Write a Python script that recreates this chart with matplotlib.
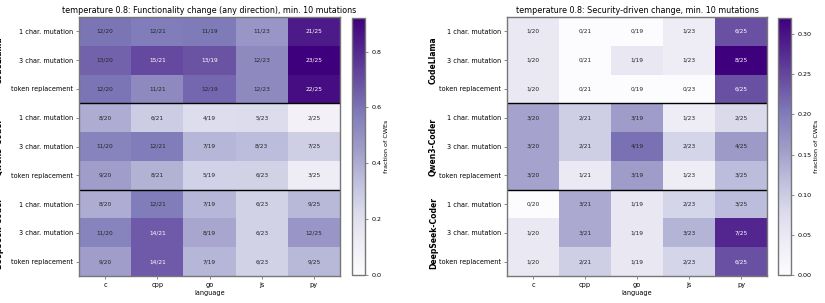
import numpy as np
import matplotlib
matplotlib.use("Agg")
import matplotlib.pyplot as plt
from matplotlib.colors import Normalize

languages = ["c", "cpp", "go", "js", "py"]
totals = [20, 21, 19, 23, 25]
models = ["CodeLlama", "Qwen3-Coder", "DeepSeek-Coder"]
mutations = ["1 char. mutation", "3 char. mutation", "token replacement"]

# functionality change counts (rows: model x mutation)
func_codellama = [[12, 12, 11, 11, 21], [13, 15, 13, 12, 23], [12, 11, 12, 12, 22]]
func_qwen = [[8, 6, 4, 5, 2], [11, 12, 7, 8, 7], [9, 8, 5, 6, 3]]
func_deepseek = [[8, 12, 7, 6, 9], [11, 14, 8, 6, 12], [9, 14, 7, 6, 9]]

# security-driven change counts
sec_codellama = [[1, 0, 0, 1, 6], [1, 0, 1, 1, 8], [1, 0, 0, 0, 6]]
sec_qwen = [[3, 2, 3, 1, 2], [3, 2, 4, 2, 4], [3, 1, 3, 1, 3]]
sec_deepseek = [[0, 3, 1, 2, 3], [1, 3, 1, 3, 7], [1, 2, 1, 2, 6]]

titles = ["temperature 0.8: Functionality change (any direction), min. 10 mutations",
          "temperature 0.8: Security-driven change, min. 10 mutations"]

W, H = 825, 303
fig = plt.figure(figsize=(W / 100, H / 100), dpi=100)

def fx(px):
    return px / W

def fy(py):
    return 1 - py / H

panels = [
    (np.array(func_codellama + func_qwen + func_deepseek), (79, 340), (352, 365), 80,
     [0.0, 0.2, 0.4, 0.6, 0.8], "{:.1f}"),
    (np.array(sec_codellama + sec_qwen + sec_deepseek), (507, 767), (778, 791), 73.5,
     [0.0, 0.05, 0.10, 0.15, 0.20, 0.25, 0.30], "{:.2f}"),
]
top, bot = 17, 276
spine_col = "#777777"
cmap = plt.get_cmap("Purples")

for (counts, (x0, x1), (c0, c1), goff, cticks, cfmt), title in zip(panels, titles):
    frac = counts / np.array(totals)[None, :]
    ax = fig.add_axes([fx(x0), fy(bot), fx(x1 - x0), (bot - top) / H])
    norm = Normalize(vmin=0, vmax=frac.max())
    mesh = ax.pcolormesh(np.arange(len(languages) + 1), np.arange(frac.shape[0] + 1),
                         frac, cmap=cmap, norm=norm)
    ax.set_xlim(0, len(languages))
    ax.set_ylim(frac.shape[0], 0)
    for i in range(frac.shape[0]):
        for j in range(frac.shape[1]):
            r, g, b, _ = cmap(norm(frac[i, j]))
            lum = 0.2126 * r + 0.7152 * g + 0.0722 * b
            col = "#262626" if lum > 0.408 else "white"
            ax.text(j + 0.5, i + 0.5, f"{counts[i, j]}/{totals[j]}", ha="center",
                    va="center", fontsize=4.2, color=col)
    for yy in [3, 6]:
        ax.axhline(yy, color="black", lw=1.0)
    ax.set_xticks(np.arange(len(languages)) + 0.5)
    ax.set_xticklabels(languages, fontsize=4.7)
    ax.set_yticks(np.arange(frac.shape[0]) + 0.5)
    ax.set_yticklabels(mutations * len(models), fontsize=4.7)
    ax.tick_params(length=2.5, width=0.6, color=spine_col, pad=2)
    ax.set_xlabel("language", fontsize=4.7, labelpad=1.5)
    ax.set_title(title, fontsize=5.8, pad=3)
    for s in ax.spines.values():
        s.set_color(spine_col)
        s.set_linewidth(1.0)
    for k, m in enumerate(models):
        ax.text(-goff / (x1 - x0) * len(languages), 3 * k + 1.5, m, rotation=90,
                ha="center", va="center", fontsize=5.5, fontweight="bold",
                transform=ax.transData, clip_on=False)
    cax = fig.add_axes([fx(c0), fy(bot - 1), fx(c1 - c0), (bot - 1 - top - 1) / H])
    cb = fig.colorbar(mesh, cax=cax)
    cb.set_ticks(cticks)
    cb.ax.set_yticklabels([cfmt.format(t) for t in cticks])
    cb.ax.tick_params(labelsize=4.6, length=2.5, width=0.6, color=spine_col, pad=2)
    cb.outline.set_edgecolor(spine_col)
    cb.outline.set_linewidth(1.0)
    cb.set_label("fraction of CWEs", fontsize=4.6, labelpad=2)

fig.savefig("out.png", dpi=100)
